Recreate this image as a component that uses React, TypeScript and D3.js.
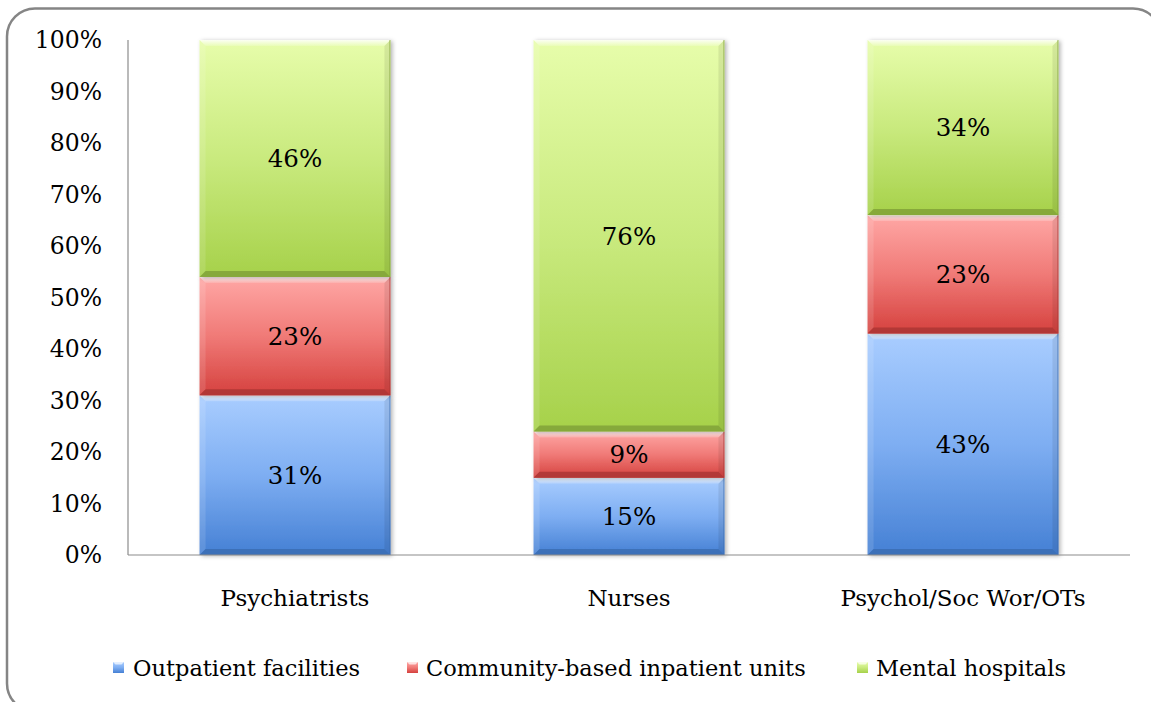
import React from "react";
import * as d3 from "d3";

// Staff distribution by setting (share of each profession, in %)
const categories = ["Psychiatrists", "Nurses", "Psychol/Soc Wor/OTs"];
const seriesNames = ["Outpatient facilities", "Community-based inpatient units", "Mental hospitals"];
const outpatient = [31, 15, 43];
const communityInpatient = [23, 9, 23];
const mentalHospitals = [46, 76, 34];
const yTicks = [0, 10, 20, 30, 40, 50, 60, 70, 80, 90, 100];

const palettes = [
  { id: "blue", top: "#a9cdff", mid: "#7eaef2", bottom: "#4580d4", edge: "#3a6cb0" },
  { id: "red", top: "#ffa7a5", mid: "#f07a77", bottom: "#d5413e", edge: "#a93533" },
  { id: "green", top: "#e7fdab", mid: "#c9ea7e", bottom: "#a6d14a", edge: "#7e9f37" },
];

const W = 1151;
const H = 702;
const margin = { left: 128, right: 21, top: 40, bottom: 147 };
const FONT = "'DejaVu Serif', 'Liberation Serif', serif";

// layout of the legend entries (marker x, text x)
const legendPos = [
  { mx: 113, tx: 133 },
  { mx: 407, tx: 426 },
  { mx: 857, tx: 876 },
];

type Seg = { key: string; cat: string; s: number; y0: number; y1: number; value: number };

function BevelBar({ x, y, w, h, p }: { x: number; y: number; w: number; h: number; p: (typeof palettes)[number] }) {
  const b = Math.min(6, h / 3);
  const x0 = x, x1 = x + w, y0 = y, y1 = y + h;
  return (
    <g>
      <rect x={x0} y={y0} width={w} height={h} fill={`url(#grad-${p.id})`} filter="url(#barShadow)" />
      {/* top bevel highlight */}
      <polygon
        points={`${x0},${y0} ${x1},${y0} ${x1 - b},${y0 + b} ${x0 + b},${y0 + b}`}
        fill="url(#bevelTop)"
      />
      {/* left bevel */}
      <polygon
        points={`${x0},${y0} ${x0 + b},${y0 + b} ${x0 + b},${y1 - b} ${x0},${y1}`}
        fill="#ffffff"
        opacity={0.12}
      />
      {/* right bevel */}
      <polygon
        points={`${x1},${y0} ${x1 - b},${y0 + b} ${x1 - b},${y1 - b} ${x1},${y1}`}
        fill="#000000"
        opacity={0.08}
      />
      {/* bottom bevel */}
      <polygon
        points={`${x0},${y1} ${x1},${y1} ${x1 - b},${y1 - b} ${x0 + b},${y1 - b}`}
        fill={p.edge}
        opacity={0.8}
      />
      <line x1={x1 - 0.5} x2={x1 - 0.5} y1={y0} y2={y1} stroke={p.edge} strokeWidth={1} opacity={0.7} />
    </g>
  );
}

export default function App() {
  const innerW = W - margin.left - margin.right;
  const innerH = H - margin.top - margin.bottom;

  const x = d3
    .scaleBand<string>()
    .domain(categories)
    .range([margin.left, margin.left + innerW])
    .paddingInner(0.75 / 1.75)
    .paddingOuter(0.75 / 3.5);

  const y = d3
    .scaleLinear()
    .domain([0, 100])
    .range([margin.top + innerH, margin.top]);

  const rows = categories.map((cat, i) => ({
    cat,
    "Outpatient facilities": outpatient[i],
    "Community-based inpatient units": communityInpatient[i],
    "Mental hospitals": mentalHospitals[i],
  }));

  const stacked = d3.stack<any>().keys(seriesNames)(rows);

  const segs: Seg[] = [];
  stacked.forEach((layer, s) => {
    layer.forEach((d) => {
      segs.push({
        key: `${s}-${d.data.cat}`,
        cat: d.data.cat,
        s,
        y0: d[0],
        y1: d[1],
        value: d[1] - d[0],
      });
    });
  });

  const baseY = y(0);

  return (
    <svg
      width={W}
      height={H}
      viewBox={`0 0 ${W} ${H}`}
      style={{ position: "absolute", left: 0, top: 0, display: "block", background: "#ffffff" }}
    >
      <defs>
        {palettes.map((p) => (
          <linearGradient key={p.id} id={`grad-${p.id}`} x1="0" y1="0" x2="0" y2="1">
            <stop offset="0%" stopColor={p.top} />
            <stop offset="50%" stopColor={p.mid} />
            <stop offset="100%" stopColor={p.bottom} />
          </linearGradient>
        ))}
        <linearGradient id="bevelTop" x1="0" y1="0" x2="0" y2="1">
          <stop offset="0%" stopColor="#ffffff" stopOpacity={0.85} />
          <stop offset="100%" stopColor="#ffffff" stopOpacity={0.15} />
        </linearGradient>
        <filter id="barShadow" x="-10%" y="-10%" width="130%" height="130%">
          <feDropShadow dx={2} dy={1} stdDeviation={2} floodColor="#000" floodOpacity={0.3} />
        </filter>
      </defs>

      {/* outer rounded frame */}
      <rect x={7} y={8.5} width={1154} height={703} rx={28} ry={28} fill="#ffffff" stroke="#858585" strokeWidth={2.5} />

      {/* bars */}
      {segs.map((d) => (
        <BevelBar
          key={d.key}
          x={x(d.cat)!}
          y={y(d.y1)}
          w={x.bandwidth()}
          h={y(d.y0) - y(d.y1)}
          p={palettes[d.s]}
        />
      ))}

      {/* axes */}
      <line x1={margin.left} x2={margin.left} y1={margin.top} y2={baseY} stroke="#8c8c8c" strokeWidth={1.2} />
      <line x1={margin.left} x2={margin.left + innerW} y1={baseY} y2={baseY} stroke="#8c8c8c" strokeWidth={1.2} />

      {/* y tick labels */}
      {yTicks.map((t) => (
        <text
          key={t}
          x={102}
          y={y(t)}
          dy="0.36em"
          textAnchor="end"
          fontFamily={FONT}
          fontSize={23.5}
          fill="#000"
        >
          {`${t}%`}
        </text>
      ))}

      {/* value labels */}
      {segs.map((d) => (
        <text
          key={`l-${d.key}`}
          x={x(d.cat)! + x.bandwidth() / 2}
          y={y((d.y0 + d.y1) / 2)}
          dy="0.36em"
          textAnchor="middle"
          fontFamily={FONT}
          fontSize={24.5}
          fill="#000"
        >
          {`${d.value}%`}
        </text>
      ))}

      {/* category labels */}
      {categories.map((c) => (
        <text
          key={c}
          x={x(c)! + x.bandwidth() / 2}
          y={598}
          dy="0.36em"
          textAnchor="middle"
          fontFamily={FONT}
          fontSize={23}
          fill="#000"
        >
          {c}
        </text>
      ))}

      {/* legend */}
      {seriesNames.map((name, i) => (
        <g key={name}>
          <rect x={legendPos[i].mx} y={662} width={11} height={11} fill={`url(#grad-${palettes[i].id})`} />
          <polygon
            points={`${legendPos[i].mx},662 ${legendPos[i].mx + 11},662 ${legendPos[i].mx + 8.5},664.5 ${legendPos[i].mx + 2.5},664.5`}
            fill="#fff"
            opacity={0.7}
          />
          <text x={legendPos[i].tx} y={668} dy="0.36em" fontFamily={FONT} fontSize={22.5} fill="#000">
            {name}
          </text>
        </g>
      ))}
    </svg>
  );
}
